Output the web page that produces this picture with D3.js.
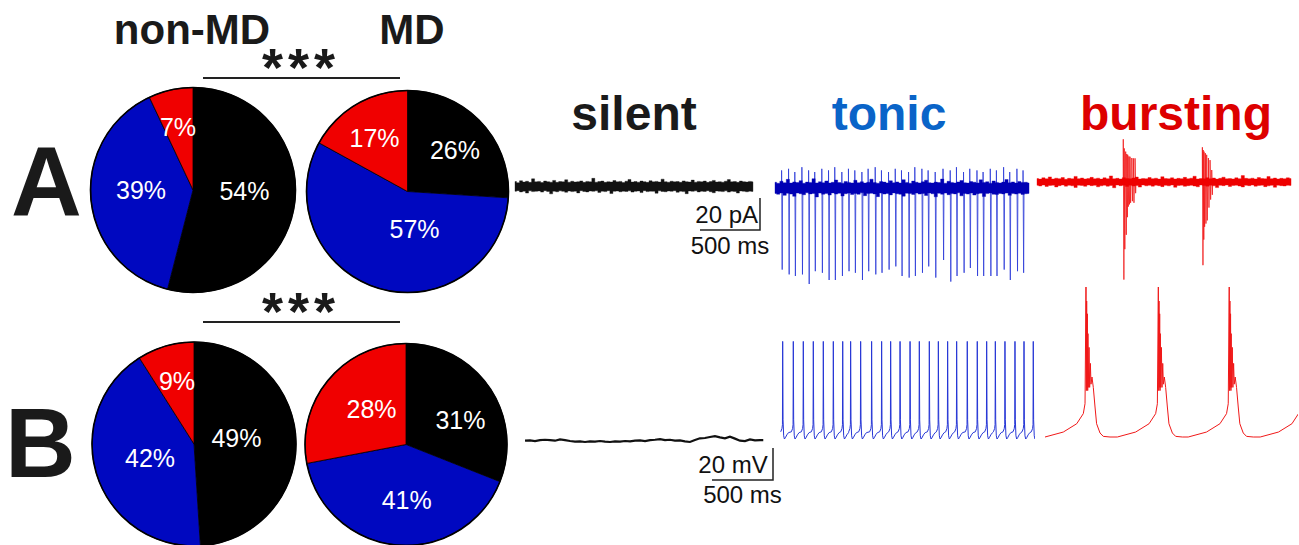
<!DOCTYPE html>
<html lang="en">
<head>
  <meta charset="UTF-8">
  <title>Firing patterns non-MD vs MD</title>
  <script src="https://cdn.jsdelivr.net/npm/d3@7/dist/d3.min.js"></script>
  <style>
    body { margin: 0; background: #fff; }
    svg { display: block; }
    text { font-family: Arial, "Liberation Sans", sans-serif; }
  </style>
</head>
<body>
  <svg></svg>
  <script>
    // ---- data ----
    const patterns = ["silent", "tonic", "bursting"];
    const groups = ["non-MD", "MD"];

    // percentages, order = silent, tonic, bursting
    const pctA_nonMD = [54, 39, 7];
    const pctA_MD = [26, 57, 17];
    const pctB_nonMD = [49, 42, 9];
    const pctB_MD = [31, 41, 28];

    // A: silent cell, noise envelope (pA), evenly sampled over the sweep
    const silentA_dur = 1983;
    const silentA_hi = [3.1,2.4,3.6,2.8,3.3,2.6,4.8,2.9,3.2,2.5,3.4,3.0,2.7,3.8,2.6,3.1,2.9,4.2,2.7,3.3,2.8,3.0,3.5,2.6,3.2,2.9,5.1,2.7,3.1,3.4,2.6,3.0,2.8,3.7,2.9,3.2,2.5,3.3,4.4,2.8,3.1,2.7,3.4,3.0,2.6,3.6,2.9,3.2,2.8,4.6,3.0,2.7,3.3,2.9,3.1,2.6,3.5,3.0,2.8,4.0,2.7,3.2,2.9,3.4,2.6,3.1,3.8,2.8,3.0,2.7,3.3,4.3,2.9,3.1,2.6,3.4,3.0,2.8,3.2,2.9];
    const silentA_lo = [-3.0,-2.6,-3.4,-2.9,-4.1,-2.7,-3.2,-3.0,-2.8,-3.5,-2.6,-3.1,-4.6,-2.9,-3.3,-2.7,-3.0,-3.6,-2.8,-3.2,-2.9,-4.0,-2.6,-3.1,-3.4,-2.8,-3.0,-2.7,-3.7,-2.9,-3.2,-2.6,-4.4,-3.0,-2.8,-3.3,-2.9,-3.1,-2.7,-3.5,-3.0,-2.8,-3.8,-2.6,-3.2,-2.9,-3.0,-4.2,-2.7,-3.1,-3.3,-2.8,-3.0,-2.6,-3.6,-2.9,-3.2,-4.5,-2.8,-3.0,-2.7,-3.4,-2.9,-3.1,-2.6,-3.3,-3.9,-2.8,-3.0,-3.2,-2.7,-3.5,-2.9,-3.1,-4.1,-2.8,-3.0,-3.3,-2.9,-3.1];

    // A: tonic cell, noise envelope (pA) + action currents
    const tonicA_dur = 2117;
    const tonicA_hi = [3.6,3.0,4.2,3.3,5.4,3.1,3.8,3.4,4.6,3.0,3.7,3.5,5.8,3.2,3.9,3.3,4.4,3.1,3.6,5.0,3.4,3.0,4.1,3.5,3.2,4.8,3.3,3.9,3.1,3.6,5.5,3.4,3.0,4.0,3.7,3.2,4.5,3.3,3.8,3.1,5.2,3.5,3.0,4.3,3.6,3.2,3.9,4.9,3.3,3.1,3.7,3.4,5.6,3.0,4.2,3.5,3.2,3.8,4.7,3.3,3.1,4.0,3.6,3.2,5.1,3.4,3.9,3.0,4.4,3.5,3.2,3.7,5.3,3.3,3.8,3.1,4.1,3.4,3.6,3.2];
    const tonicA_lo = [-3.4,-3.9,-3.1,-4.6,-3.3,-3.8,-5.2,-3.2,-3.6,-4.2,-3.0,-3.7,-3.4,-5.6,-3.2,-3.9,-3.5,-4.4,-3.1,-3.8,-3.3,-5.0,-3.6,-3.2,-4.1,-3.4,-3.9,-3.0,-4.8,-3.5,-3.3,-3.7,-5.4,-3.2,-3.8,-3.4,-4.3,-3.1,-3.6,-3.9,-5.1,-3.3,-3.5,-4.0,-3.2,-3.8,-3.4,-4.7,-3.1,-3.6,-5.5,-3.3,-3.9,-3.2,-4.2,-3.5,-3.7,-3.0,-4.9,-3.4,-3.8,-3.2,-4.4,-3.6,-3.3,-5.3,-3.5,-3.1,-3.9,-4.1,-3.4,-3.7,-3.2,-4.6,-3.5,-3.8,-3.3,-4.0,-3.6,-3.4];
    const tonicA_spikeT = [55,113,165,224,280,331,390,446,498,557,612,665,724,776,835,887,946,1002,1054,1113,1165,1224,1276,1335,1400,1460,1512,1571,1623,1683,1734,1794,1845,1905,1956,2016,2067];
    const tonicA_spikeUp = [11,12,10,13,11,10,12,11,13,10,12,11,10,12,13,11,10,12,11,10,13,12,11,10,12,11,13,10,12,11,10,12,11,13,10,12,11];
    const tonicA_spikeDown = [-51,-54,-55,-54,-60,-52,-53,-57.5,-57.5,-55,-52,-53,-57.5,-52,-54,-53,-51,-49,-55,-56,-55,-53,-49,-56,-45,-58.5,-55,-53,-50,-55,-55,-55,-55,-51,-57.5,-52,-53];

    // A: bursting cell, noise envelope (pA) + burst events
    const burstA_dur = 2117;
    const burstA_hi = [2.2,1.8,2.6,2.0,3.2,1.9,2.4,2.1,2.8,1.7,2.3,2.0,3.5,2.1,2.5,1.9,2.2,2.9,2.0,2.4,1.8,2.6,2.1,3.8,2.0,2.3,1.9,2.7,2.2,2.0,2.5,3.1,1.9,2.2,2.0,2.8,2.1,2.4,1.8,3.3,2.2,2.0,2.6,1.9,2.3,2.1,2.9,2.0,2.4,3.6,1.9,2.2,2.0,2.7,2.1,2.5,1.8,2.3,3.0,2.0,2.2,1.9,2.6,2.1,4.0,2.3,2.0,2.4,1.9,2.8,2.2,2.0,3.4,2.1,2.5,1.9,2.3,2.0,2.6,2.2];
    const burstA_lo = [-2.1,-2.5,-1.9,-2.8,-2.2,-2.0,-3.1,-2.3,-1.9,-2.6,-2.1,-2.4,-3.4,-2.0,-2.2,-2.7,-1.9,-2.3,-2.1,-3.0,-2.4,-2.0,-2.6,-2.2,-3.6,-1.9,-2.3,-2.1,-2.8,-2.0,-2.5,-2.2,-3.2,-1.9,-2.4,-2.1,-2.6,-2.0,-2.3,-2.9,-2.1,-2.4,-1.9,-3.3,-2.2,-2.0,-2.7,-2.3,-2.1,-2.5,-3.0,-1.9,-2.2,-2.6,-2.0,-2.4,-3.5,-2.1,-2.3,-1.9,-2.8,-2.2,-2.0,-2.5,-3.1,-2.1,-2.3,-1.9,-2.6,-2.2,-2.0,-2.9,-2.4,-2.1,-3.3,-2.0,-2.3,-2.5,-2.1,-2.2];
    const burstA_eventT = [719,727,739,748,756,766,775,790,803,817,1378,1385,1392,1403,1414,1428,1442,1456];
    const burstA_eventUp = [26.7,21,19,17.5,17,16,15.8,15,14.8,14.8,21.7,20,19,18,17,15,13.7,7.5];
    const burstA_eventDown = [-61,-42,-33,-22,-15.4,-14,-13,-12,-13,-7,-52,-36,-28,-26,-24,-16,-11,-8];

    // B: silent cell, membrane potential (ms, mV rel. rest)
    const silentB_t = [0,41,82,123,164,205,246,287,328,369,410,451,492,533,574,615,656,697,738,779,820,861,902,943,984,1025,1066,1107,1148,1188,1229,1270,1311,1352,1393,1434,1475,1516,1557,1598,1639,1680,1721,1762,1803,1844,1885,1926,1953];
    const silentB_mV = [0,0.2,-0.2,0.4,0.6,0.4,0,0.8,0.4,-0.2,-0.6,-0.4,-0.8,-0.4,-0.6,-0.2,-0.6,-0.8,-0.4,-0.6,-0.2,-0.4,0,0.2,-0.2,0.4,0.6,1.0,0.4,0.6,0,0.2,-0.4,-0.8,0.4,1.5,1.7,2.3,2.9,2.1,1.5,2.5,1.3,0,-0.2,0.8,0.2,0.4,0.4];

    // B: tonic cell, spike times (ms) and one cycle of the waveform (ms from peak, mV above trough)
    const tonicB_dur = 2090;
    const tonicB_spikeT = [22,109,191,273,355,437,514,579,661,751,833,907,984,1066,1142,1224,1298,1374,1448,1535,1617,1694,1765,1844,1926,2000,2076];
    const tonicB_shapeT = [-16,-6,-2,0,3,8,14,22,34,48];
    const tonicB_shapeMV = [4.5,6.5,9,61,12,2,0,0.8,2.6,4];

    // B: bursting cell, burst times (ms) and one burst waveform
    const burstB_dur = 2074;
    const burstB_T = [336,929,1510,2100];
    const burstB_shapeT = [-336,-186,-76,-22,-8,0,3,5.5,8,11,14,16,19,25,30,36,41,49,60,74,87,115,142,197];
    const burstB_shapeMV = [0,3.1,8.3,14.6,20.8,93.75,29,85,31,77,29,64.6,31,56,31,46,33,37.5,31,18.75,8.3,2.5,0.4,0];

    // ---- layout ----
    const W = 1299, H = 545;
    const sliceColors = ["#000000", "#0008c0", "#f00000"];
    const titleColors = ["#1a1a1a", "#0a64c8", "#dd0000"];

    const svg = d3.select("svg").attr("width", W).attr("height", H);

    // group names + panel letters
    svg.selectAll(".grp").data(groups).join("text")
      .attr("class", "grp")
      .attr("x", (d, i) => [192, 412][i]).attr("y", 44)
      .attr("text-anchor", "middle")
      .style("font-size", "42px").style("font-weight", "bold").attr("fill", "#1a1a1a")
      .text(d => d);

    svg.selectAll(".panel").data(["A", "B"]).join("text")
      .attr("class", "panel")
      .attr("x", (d, i) => [11, 5][i]).attr("y", (d, i) => [215, 477][i])
      .style("font-size", "98px").style("font-weight", "bold").attr("fill", "#1a1a1a")
      .text(d => d);

    // significance brackets
    [[78, 86], [322, 330]].forEach(([ly, sy]) => {
      svg.append("line").attr("x1", 203).attr("x2", 400).attr("y1", ly).attr("y2", ly)
        .attr("stroke", "#222").attr("stroke-width", 2);
      svg.append("text").attr("x", 301).attr("y", sy).attr("text-anchor", "middle")
        .style("font-size", "54px").style("font-weight", "bold").style("letter-spacing", "5px")
        .attr("fill", "#1a1a1a")
        .text("***");
    });

    // pies
    const pies = [
      { values: pctA_nonMD, cx: 193, cy: 190, r: 102.5, lab: [[51.5, 10], [-52, 9], [-15, -54]] },
      { values: pctA_MD, cx: 407.5, cy: 191.5, r: 101, lab: [[47.5, -32.5], [7, 46.5], [-33, -44.5]] },
      { values: pctB_nonMD, cx: 194, cy: 444, r: 102, lab: [[42.5, 2.7], [-44, 22.7], [-17, -54]] },
      { values: pctB_MD, cx: 406, cy: 444.5, r: 101, lab: [[54.5, -15.5], [0.7, 64.5], [-34.5, -26.5]] }
    ];
    const pie = d3.pie().sort(null).value(d => d);

    pies.forEach(p => {
      const arc = d3.arc().innerRadius(0).outerRadius(p.r);
      const g = svg.append("g").attr("transform", `translate(${p.cx},${p.cy})`);
      g.selectAll("path").data(pie(p.values)).join("path")
        .attr("d", arc)
        .attr("fill", (d, i) => sliceColors[i])
        .attr("stroke", "#000").attr("stroke-width", 0.8);
      g.append("circle").attr("r", p.r).attr("fill", "none").attr("stroke", "#000").attr("stroke-width", 1.6);
      g.selectAll("text").data(p.values).join("text")
        .attr("x", (d, i) => p.lab[i][0]).attr("y", (d, i) => p.lab[i][1])
        .attr("text-anchor", "middle")
        .style("font-size", "25px").attr("fill", "#fff")
        .text(d => d + "%");
    });

    // pattern titles
    svg.selectAll(".title").data(patterns).join("text")
      .attr("class", "title")
      .attr("x", (d, i) => [634, 889, 1176][i]).attr("y", 130)
      .attr("text-anchor", "middle")
      .style("font-size", "48px").style("font-weight", "bold")
      .attr("fill", (d, i) => titleColors[i])
      .text(d => d);

    // ---- traces ----
    // panel A: 500 ms = 60 px, 20 pA = 32 px ; panel B: 500 ms = 61 px, 20 mV = 32 px
    function scales(x0, y0, msPx, unitPx) {
      return {
        x: d3.scaleLinear().domain([0, 500]).range([x0, x0 + msPx]),
        y: d3.scaleLinear().domain([0, 20]).range([y0, y0 - unitPx])
      };
    }

    let clipId = 0;
    function clipTo(s, dur) {
      const id = "clip" + (clipId++);
      svg.append("clipPath").attr("id", id).append("rect")
        .attr("x", s.x(0)).attr("y", 0).attr("width", s.x(dur) - s.x(0)).attr("height", H);
      return svg.append("g").attr("clip-path", `url(#${id})`);
    }

    function noiseBand(s, hi, lo, dur, color) {
      const n = hi.length;
      const area = d3.area()
        .x((d, i) => s.x(i * dur / (n - 1)))
        .y0((d, i) => s.y(lo[i]))
        .y1((d, i) => s.y(hi[i]))
        .curve(d3.curveStep);
      svg.append("path").datum(hi).attr("d", area)
        .attr("fill", color).attr("stroke", color).attr("stroke-width", 0.6).attr("stroke-opacity", 0.6);
    }

    function spikes(s, t, up, down, color, op) {
      svg.append("g").selectAll("path").data(t).join("path")
        .attr("d", (d, i) => `M${s.x(d)},${s.y(0)}L${s.x(d)},${s.y(up[i])}L${s.x(d) + 0.6},${s.y(down[i])}L${s.x(d) + 1},${s.y(0)}`)
        .attr("fill", "none").attr("stroke", color).attr("stroke-width", 1).attr("stroke-opacity", op);
    }

    function templateTrace(times, shapeT, shapeV) {
      const pts = [];
      times.forEach(t0 => shapeT.forEach((dt, k) => pts.push([t0 + dt, shapeV[k]])));
      return pts.sort((a, b) => a[0] - b[0]);
    }

    // A silent
    const sAs = scales(515, 186.5, 60, 32);
    noiseBand(sAs, silentA_hi, silentA_lo, silentA_dur, "#111");

    // A tonic
    const sAt = scales(775, 188, 60, 32);
    spikes(sAt, tonicA_spikeT, tonicA_spikeUp, tonicA_spikeDown, "#2a3ad8", 0.8);
    noiseBand(sAt, tonicA_hi, tonicA_lo, tonicA_dur, "#0000b4");

    // A bursting
    const sAb = scales(1037, 182, 60, 32);
    spikes(sAb, burstA_eventT, burstA_eventUp, burstA_eventDown, "#f01010", 0.75);
    noiseBand(sAb, burstA_hi, burstA_lo, burstA_dur, "#ee0000");

    // A scale bar
    const barA = scales(700, 230, 60, 32);
    svg.append("path")
      .attr("d", `M${barA.x(0)},${barA.y(0)}H${barA.x(500)}V${barA.y(20)}`)
      .attr("fill", "none").attr("stroke", "#222").attr("stroke-width", 1.5);
    svg.append("text").attr("x", 758).attr("y", 223).attr("text-anchor", "end")
      .style("font-size", "24px").attr("fill", "#111").text("20 pA");
    svg.append("text").attr("x", 730).attr("y", 254).attr("text-anchor", "middle")
      .style("font-size", "24px").attr("fill", "#111").text("500 ms");

    // B silent
    const sBs = scales(525, 440.7, 61, 32);
    svg.append("path").datum(d3.zip(silentB_t, silentB_mV))
      .attr("d", d3.line().x(d => sBs.x(d[0])).y(d => sBs.y(d[1])))
      .attr("fill", "none").attr("stroke", "#111").attr("stroke-width", 2.2);

    // B tonic
    const sBt = scales(780, 439, 61, 32);
    clipTo(sBt, tonicB_dur).append("path")
      .datum(templateTrace(tonicB_spikeT, tonicB_shapeT, tonicB_shapeMV))
      .attr("d", d3.line().x(d => sBt.x(d[0])).y(d => sBt.y(d[1])))
      .attr("fill", "none").attr("stroke", "#2636d6").attr("stroke-width", 1);

    // B bursting
    const sBb = scales(1045, 437, 61, 32);
    clipTo(sBb, burstB_dur).append("path")
      .datum(templateTrace(burstB_T, burstB_shapeT, burstB_shapeMV))
      .attr("d", d3.line().x(d => sBb.x(d[0])).y(d => sBb.y(d[1])))
      .attr("fill", "none").attr("stroke", "#f01818").attr("stroke-width", 1);

    // B scale bar
    const barB = scales(712, 480, 61, 32);
    svg.append("path")
      .attr("d", `M${barB.x(0)},${barB.y(0)}H${barB.x(500)}V${barB.y(20)}`)
      .attr("fill", "none").attr("stroke", "#222").attr("stroke-width", 1.5);
    svg.append("text").attr("x", 733).attr("y", 472.7).attr("text-anchor", "middle")
      .style("font-size", "24px").attr("fill", "#111").text("20 mV");
    svg.append("text").attr("x", 742.5).attr("y", 502.7).attr("text-anchor", "middle")
      .style("font-size", "24px").attr("fill", "#111").text("500 ms");
  </script>
</body>
</html>
